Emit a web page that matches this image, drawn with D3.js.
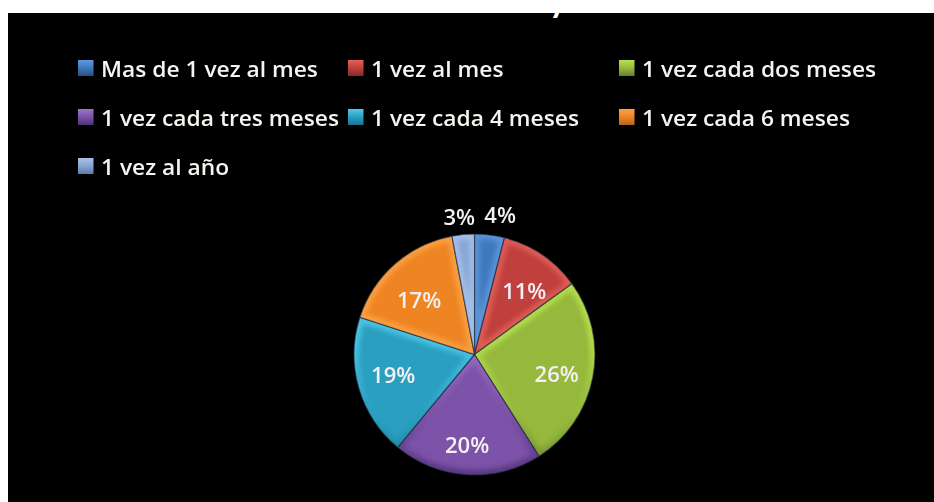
<!DOCTYPE html>
<html><head><meta charset="utf-8">
<script src="https://cdn.jsdelivr.net/npm/d3@7/dist/d3.min.js"></script>
<style>html,body{margin:0;padding:0;background:#fff}svg{display:block}</style>
</head><body><div id="c"></div>
<script>
const categories = ["Mas de 1 vez al mes","1 vez al mes","1 vez cada dos meses","1 vez cada tres meses","1 vez cada 4 meses","1 vez cada 6 meses","1 vez al año"];
const values = [4,11,26,20,19,17,3];
const baseColors = ["#3f78bd","#c03f3c","#96b83c","#7c52a8","#2a9fc0","#ee8424","#86a6d6"];
const rimColors = ["#5f98dc","#e2625a","#b6e34e","#9d74ca","#4fcbec","#fda444","#a8c2e8"];
const darkColors = ["#25507f","#842a28","#62802a","#4e3278","#1a7490","#b96416","#5c7aaa"];
const legendRows = [0,0,0,1,1,1,2];
const legendCols = [0,1,2,0,1,2,0];
const labelShiftX = [8,1,-3,-2,2,2,-2];
const labelShiftY = [1,9,4,4,-3,11,3];

const W=934,H=502;
const svg=d3.select("#c").append("svg").attr("width",W).attr("height",H);
const defs=svg.append("defs");
const font="'Open Sans', Lato, sans-serif";
defs.append("filter").attr("id","soft").append("feGaussianBlur").attr("stdDeviation",0.6);
defs.append("filter").attr("id","bevel").attr("x","-20%").attr("y","-20%").attr("width","140%").attr("height","140%")
  .append("feGaussianBlur").attr("stdDeviation",2.6);
defs.append("clipPath").attr("id","top").append("rect").attr("x",8).attr("y",13).attr("width",926).attr("height",489);

svg.append("rect").attr("x",8).attr("y",13).attr("width",926).attr("height",489).attr("fill","#000");

// title is cropped in the source: only the descender of its last letter survives
svg.append("g").attr("clip-path","url(#top)").append("text").attr("x",558).attr("y",12)
  .attr("text-anchor","middle").attr("fill","#fff").attr("font-family","Lato, sans-serif").attr("font-weight",700)
  .attr("font-size",34).text("y");

// legend
const colX=d3.scaleOrdinal().domain([0,1,2]).range([78,348,619]);
const rowY=d3.scalePoint().domain([0,1,2]).range([69,167]);
const lg=svg.append("g").attr("filter","url(#soft)");
categories.forEach((c,i)=>{
  const x=colX(legendCols[i]),y=rowY(legendRows[i]);
  const gid="lg"+i;
  const g=defs.append("linearGradient").attr("id",gid).attr("x1",0).attr("y1",0).attr("x2",0).attr("y2",1);
  g.append("stop").attr("offset",0).attr("stop-color",rimColors[i]);
  g.append("stop").attr("offset",0.5).attr("stop-color",baseColors[i]);
  g.append("stop").attr("offset",1).attr("stop-color",darkColors[i]);
  lg.append("rect").attr("x",x).attr("y",y-9).attr("width",15.5).attr("height",16).attr("fill","url(#"+gid+")");
  lg.append("text").attr("transform",`translate(${x+23},${y+7.5}) scale(1.085,1)`).attr("fill","#f4f4f0").attr("font-family",font)
    .attr("font-size",21).attr("font-weight",600).text(c);
});

// pie
const cx=474.5,cy=354.5,r=120.5;
const pie=d3.pie().sort(null)(values);
const arc=d3.arc().innerRadius(0).outerRadius(r);
const labelArc=d3.arc().innerRadius(r*0.72).outerRadius(r*0.72);
const outerArc=d3.arc().innerRadius(r*1.17).outerRadius(r*1.17);
const pg=svg.append("g").attr("transform",`translate(${cx},${cy})`);
const slices=pg.append("g").attr("filter","url(#soft)");
pie.forEach((d,i)=>{
  const path=arc(d);
  defs.append("clipPath").attr("id","sc"+i).append("path").attr("d",path);
  const gid="pg"+i;
  const g=defs.append("linearGradient").attr("id",gid).attr("gradientUnits","userSpaceOnUse")
    .attr("x1",0).attr("y1",-r).attr("x2",0).attr("y2",r);
  g.append("stop").attr("offset",0).attr("stop-color",rimColors[i]);
  g.append("stop").attr("offset",0.45).attr("stop-color",rimColors[i]);
  g.append("stop").attr("offset",0.75).attr("stop-color",baseColors[i]);
  g.append("stop").attr("offset",1).attr("stop-color",darkColors[i]);
  slices.append("path").attr("d",path).attr("fill",baseColors[i]);
  slices.append("g").attr("clip-path","url(#sc"+i+")").append("path").attr("d",path)
    .attr("fill","none").attr("stroke","url(#"+gid+")").attr("stroke-width",10).attr("stroke-opacity",0.85).attr("filter","url(#bevel)");
  slices.append("path").attr("d",path).attr("fill","none")
    .attr("stroke","#1c2438").attr("stroke-opacity",0.65).attr("stroke-width",1.2);
});
const labels=pg.append("g").attr("filter","url(#soft)");
pie.forEach((d,i)=>{
  const p=(values[i]<5?outerArc:labelArc).centroid(d);
  labels.append("text").attr("transform",`translate(${p[0]+labelShiftX[i]},${p[1]+labelShiftY[i]}) scale(1.05,1)`)
    .attr("dy","0.36em").attr("text-anchor","middle")
    .attr("fill","#f4f1f4").attr("font-family",font).attr("font-size",21).attr("font-weight",600)
    .text(values[i]+"%");
});
</script></body></html>
